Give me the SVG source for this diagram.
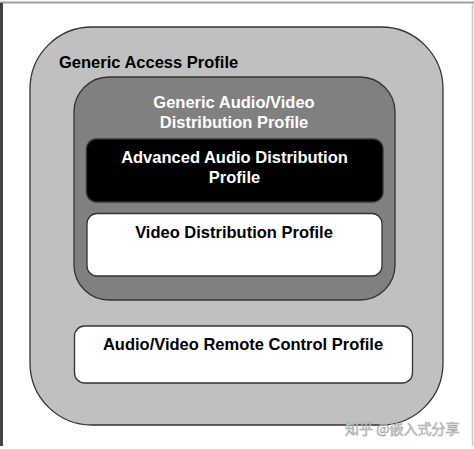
<svg xmlns="http://www.w3.org/2000/svg" width="474" height="449" viewBox="0 0 474 449">
<style>
.box{stroke:#333;stroke-width:1.3}
.t{font-family:"Liberation Sans",Arial,sans-serif;font-weight:bold;font-size:16.5px;text-anchor:middle}
.wm{font-family:"Noto Sans CJK SC","Liberation Sans",sans-serif;font-size:14px;fill:#e4e4e4;stroke:#9a9a9a;stroke-width:0.5}
</style>
<rect width="474" height="449" fill="#fff"/>
<g id="frame">
<line x1="0" y1="2.5" x2="474" y2="2.5" stroke="#a0a0a0" stroke-width="2"/>
<line x1="1.5" y1="3" x2="1.5" y2="446" stroke="#444" stroke-width="3"/>
<line x1="472.5" y1="3" x2="472.5" y2="446" stroke="#c8c8c8" stroke-width="1.5"/>
</g>
<g id="gap">
<rect class="box" x="30" y="27" width="413" height="398" rx="62" ry="62" fill="#c0c0c0"/>
<text class="t" x="59" y="68" style="text-anchor:start" fill="#000">Generic Access Profile</text>
</g>
<g id="gavdp">
<rect class="box" x="74" y="77" width="321" height="223" rx="35" ry="35" fill="#808080"/>
<text class="t" x="234" y="108" fill="#fff">Generic Audio/Video</text>
<text class="t" x="234" y="128" fill="#fff">Distribution Profile</text>
</g>
<g id="a2dp">
<rect class="box" x="86.5" y="139" width="296.5" height="63" rx="10" ry="10" fill="#000"/>
<text class="t" x="234.5" y="163" fill="#fff">Advanced Audio Distribution</text>
<text class="t" x="234.5" y="183" fill="#fff">Profile</text>
</g>
<g id="vdp">
<rect class="box" x="87" y="213.5" width="295" height="62.5" rx="10" ry="10" fill="#fff"/>
<text class="t" x="234" y="238" fill="#000">Video Distribution Profile</text>
</g>
<g id="avrcp">
<rect class="box" x="74.5" y="326" width="338" height="57" rx="10" ry="10" fill="#fff"/>
<text class="t" x="243" y="350" fill="#000">Audio/Video Remote Control Profile</text>
</g>
<g id="connectors"></g>
<text class="wm" x="345" y="434">知乎 @嵌入式分享</text>
</svg>
